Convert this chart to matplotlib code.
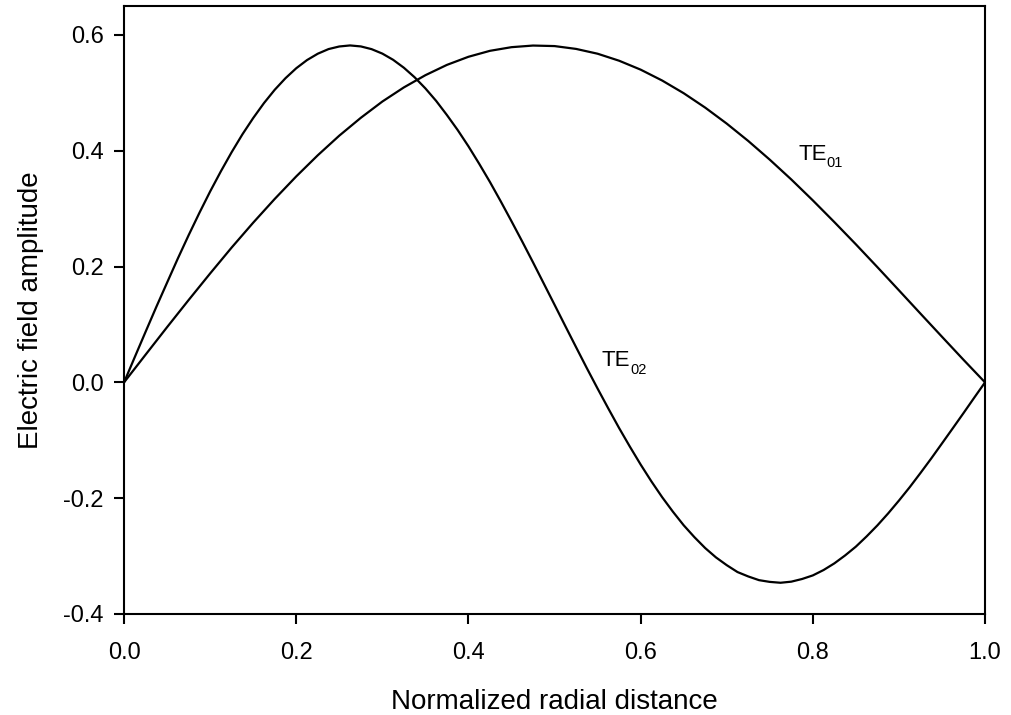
import matplotlib
matplotlib.use("Agg")
import matplotlib.pyplot as plt

plt.rcParams['font.family'] = ['Liberation Sans', 'DejaVu Sans']

# Normalized radial positions for TE01
r01 = [0.000, 0.025, 0.050, 0.075, 0.100, 0.125, 0.150, 0.175, 0.200, 0.225,
       0.250, 0.275, 0.300, 0.325, 0.350, 0.375, 0.400, 0.425, 0.450, 0.475,
       0.500, 0.525, 0.550, 0.575, 0.600, 0.625, 0.650, 0.675, 0.700, 0.725,
       0.750, 0.775, 0.800, 0.825, 0.850, 0.875, 0.900, 0.925, 0.950, 0.975,
       1.000]

# TE01 mode field amplitude
te01 = [0.0000, 0.0478, 0.0954, 0.1422, 0.1881, 0.2329, 0.2758, 0.3168, 0.3557, 0.3922,
        0.4261, 0.4569, 0.4850, 0.5094, 0.5305, 0.5483, 0.5623, 0.5726, 0.5789, 0.5817,
        0.5808, 0.5759, 0.5676, 0.5555, 0.5401, 0.5213, 0.4994, 0.4745, 0.4469, 0.4169,
        0.3846, 0.3504, 0.3143, 0.2768, 0.2384, 0.1990, 0.1590, 0.1188, 0.0788, 0.0390,
        0.0000]

# Normalized radial positions for TE02 (finer sampling, the mode bends more)
r02 = [0.0000, 0.0125, 0.0250, 0.0375, 0.0500, 0.0625, 0.0750, 0.0875, 0.1000, 0.1125,
       0.1250, 0.1375, 0.1500, 0.1625, 0.1750, 0.1875, 0.2000, 0.2125, 0.2250, 0.2375,
       0.2500, 0.2625, 0.2750, 0.2875, 0.3000, 0.3125, 0.3250, 0.3375, 0.3500, 0.3625,
       0.3750, 0.3875, 0.4000, 0.4125, 0.4250, 0.4375, 0.4500, 0.4625, 0.4750, 0.4875,
       0.5000, 0.5125, 0.5250, 0.5375, 0.5500, 0.5625, 0.5750, 0.5875, 0.6000, 0.6125,
       0.6250, 0.6375, 0.6500, 0.6625, 0.6750, 0.6875, 0.7000, 0.7125, 0.7250, 0.7375,
       0.7500, 0.7625, 0.7750, 0.7875, 0.8000, 0.8125, 0.8250, 0.8375, 0.8500, 0.8625,
       0.8750, 0.8875, 0.9000, 0.9125, 0.9250, 0.9375, 0.9500, 0.9625, 0.9750, 0.9875,
       1.0000]

# TE02 mode field amplitude
te02 = [0.0000, 0.0438, 0.0873, 0.1304, 0.1723, 0.2140, 0.2541, 0.2927, 0.3297, 0.3646,
        0.3976, 0.4284, 0.4565, 0.4823, 0.5053, 0.5253, 0.5425, 0.5566, 0.5676, 0.5756,
        0.5801, 0.5819, 0.5802, 0.5755, 0.5678, 0.5571, 0.5434, 0.5269, 0.5077, 0.4861,
        0.4617, 0.4358, 0.4077, 0.3775, 0.3460, 0.3127, 0.2783, 0.2432, 0.2073, 0.1707,
        0.1341, 0.0973, 0.0608, 0.0246, -0.0107, -0.0452, -0.0789, -0.1110, -0.1419, -0.1710,
        -0.1983, -0.2234, -0.2468, -0.2674, -0.2862, -0.3023, -0.3157, -0.3276, -0.3352, -0.3416,
        -0.3446, -0.3461, -0.3442, -0.3396, -0.3334, -0.3241, -0.3126, -0.2989, -0.2837, -0.2660,
        -0.2470, -0.2263, -0.2042, -0.1811, -0.1566, -0.1315, -0.1055, -0.0794, -0.0531, -0.0264,
        0.0000]

xticks = [0.0, 0.2, 0.4, 0.6, 0.8, 1.0]
yticks = [-0.4, -0.2, 0.0, 0.2, 0.4, 0.6]

fig = plt.figure(figsize=(10.11, 7.15), dpi=100)
ax = fig.add_axes([0.1227, 0.1413, 0.8516, 0.8503])

ax.plot(r01, te01, color='black', lw=1.6, solid_joinstyle='round')
ax.plot(r02, te02, color='black', lw=1.6, solid_joinstyle='round')


def mode_label(x, y, sub):
    # "TE" on the baseline, mode indices as a dropped subscript
    ax.text(x, y, 'TE', fontsize=16, ha='left', va='baseline')
    ax.annotate(sub, xy=(x, y), xytext=(20.5, -5.5), textcoords='offset points',
                fontsize=10.5, ha='left', va='baseline')


mode_label(0.783, 0.3845, '01')
mode_label(0.555, 0.0276, '02')

ax.set_xlim(0.0, 1.0)
ax.set_ylim(-0.4, 0.65)
ax.set_xticks(xticks)
ax.set_yticks(yticks)
ax.set_xticklabels([f'{v:.1f}' for v in xticks])
ax.set_yticklabels([f'{v:.1f}' for v in yticks])
ax.tick_params(direction='out', length=7, width=1.5, labelsize=17)
ax.tick_params(axis='x', pad=13)
ax.tick_params(axis='y', pad=7.5)
for s in ax.spines.values():
    s.set_linewidth(1.5)

ax.set_xlabel('Normalized radial distance', fontsize=20, labelpad=18)
ax.set_ylabel('Electric field amplitude', fontsize=20, labelpad=14)

fig.savefig('out.png', dpi=100)
